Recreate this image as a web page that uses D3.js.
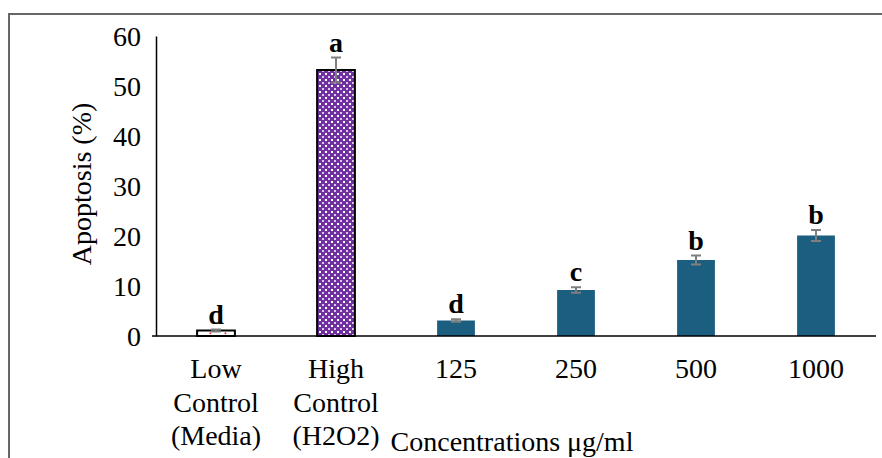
<!DOCTYPE html>
<html><head><meta charset="utf-8">
<script src="https://cdn.jsdelivr.net/npm/d3@7"></script>
<style>body{margin:0;background:#fff}svg{display:block}</style>
</head><body><svg id="c" width="882" height="458"></svg>
<script>
const categories = [["Low","Control","(Media)"],["High","Control","(H2O2)"],["125"],["250"],["500"],["1000"]];
const values = [1.1, 53.2, 3.1, 9.2, 15.2, 20.1];
const errors = [0.2, 2.5, 0.25, 0.55, 0.9, 1.1];
const letters = ["d","a","d","c","b","b"];
const yTicks = [0,10,20,30,40,50,60];

const svg = d3.select("#c");
const font = "'Liberation Serif','Times New Roman',serif";
const FS = 28;
const W = 882, H = 458;
const x0 = 156, x1 = 876, yTop = 36, yBot = 336;

// frame
svg.append("path").attr("d", `M9,${H} V14 H${W}`).attr("fill","none").attr("stroke","#666").attr("stroke-width",2);

const defs = svg.append("defs");
const pat = defs.append("pattern").attr("id","dots").attr("patternUnits","userSpaceOnUse").attr("width",6).attr("height",6);
pat.append("rect").attr("width",6).attr("height",6).attr("fill","#7030a0");
pat.append("rect").attr("x",1).attr("y",1).attr("width",2).attr("height",2).attr("fill","#fff");
pat.append("rect").attr("x",4).attr("y",4).attr("width",2).attr("height",2).attr("fill","#d9c8e8");

const x = d3.scaleBand().domain(d3.range(categories.length)).range([x0, x1]).paddingInner(0.685).paddingOuter(0.3425);
const y = d3.scaleLinear().domain([0,60]).range([yBot, yTop]);

// y axis
const ya = svg.append("g").attr("transform",`translate(${x0},0)`)
  .call(d3.axisLeft(y).tickValues(yTicks).tickSize(0).tickPadding(15));
ya.select(".domain").attr("stroke","#000").attr("stroke-width",1.5);
ya.selectAll("text").attr("font-family",font).attr("font-size",FS).attr("fill","#000").attr("dy","0.35em");

// bars
const fills = (i) => i===0 ? "#fff" : (i===1 ? "url(#dots)" : "#1b5e80");
svg.append("g").selectAll("rect").data(values).join("rect")
  .attr("x",(d,i)=>x(i)).attr("width",x.bandwidth())
  .attr("y",d=>y(d)).attr("height",d=>yBot-y(d))
  .attr("fill",(d,i)=>fills(i))
  .attr("stroke",(d,i)=> i<2 ? "#000" : "none").attr("stroke-width",(d,i)=> i<2 ? 2 : 0);

// red dots in low control bar
svg.append("g").selectAll("circle").data([0.35,0.75]).join("circle")
  .attr("cx",d=>x(0)+x.bandwidth()*d).attr("cy",y(values[0]/2)).attr("r",1).attr("fill","#e33");

// x axis
svg.append("line").attr("x1",x0-4).attr("x2",x1).attr("y1",yBot).attr("y2",yBot).attr("stroke","#000").attr("stroke-width",1.5);

// error bars
const eg = svg.append("g").attr("stroke","#7f7f7f").attr("stroke-width",2);
values.forEach((v,i)=>{
  const cx = x(i)+x.bandwidth()/2, e = errors[i];
  eg.append("line").attr("x1",cx).attr("x2",cx).attr("y1",y(v+e)).attr("y2",y(v-e));
  eg.append("line").attr("x1",cx-5).attr("x2",cx+5).attr("y1",y(v+e)).attr("y2",y(v+e));
  eg.append("line").attr("x1",cx-5).attr("x2",cx+5).attr("y1",y(v-e)).attr("y2",y(v-e));
});

// letters
svg.append("g").selectAll("text").data(letters).join("text")
  .attr("x",(d,i)=>x(i)+x.bandwidth()/2)
  .attr("y",(d,i)=>y(values[i]+errors[i])-6)
  .attr("text-anchor","middle").attr("font-family",font).attr("font-weight","bold").attr("font-size",FS)
  .text(d=>d);

// category labels
const cl = svg.append("g");
categories.forEach((lines,i)=>{
  const t = cl.append("text").attr("text-anchor","middle").attr("font-family",font).attr("font-size",FS);
  lines.forEach((s,j)=>{
    t.append("tspan").attr("x",x(i)+x.bandwidth()/2).attr("y",378+j*33.5).text(s);
  });
});

// axis titles
svg.append("text").attr("transform","translate(91,184) rotate(-90)").attr("text-anchor","middle")
  .attr("font-family",font).attr("font-size",FS).text("Apoptosis (%)");
svg.append("text").attr("x",512).attr("y",451).attr("text-anchor","middle")
  .attr("font-family",font).attr("font-size",FS).text("Concentrations μg/ml");
</script></body></html>
